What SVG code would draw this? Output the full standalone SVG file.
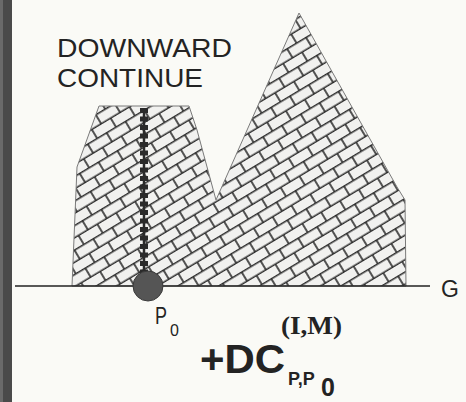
<svg xmlns="http://www.w3.org/2000/svg" width="466" height="402" viewBox="0 0 466 402">
<defs>
<pattern id="brick" patternUnits="userSpaceOnUse" width="22" height="21" patternTransform="rotate(-31)">
<rect width="22" height="21" fill="#f1f1ef"/>
<path d="M0 0.8H22M0 11.3H22M1 0.8V11.3M12 11.3V21.8" stroke="#2b2b2b" stroke-width="1.6" fill="none"/>
</pattern>
</defs>
<style>
.lbl{font-family:"Liberation Sans",Arial,sans-serif;fill:#232323}
.bold{font-weight:bold}
.serif{font-family:"Liberation Serif","Times New Roman",serif;font-weight:bold;fill:#232323}
</style>
<rect width="466" height="402" fill="#fafaf6"/>
<g id="edge-bar">
<rect x="0" y="0" width="12" height="402" fill="#4a4a4a"/>
<rect x="0" y="0" width="3" height="402" fill="#6a6a6a"/>
</g>
<g id="terrain">
<polygon points="72,286 77,167 99,106 189,106 197,130 216,200 299,13 397,187 405,200 406,286" fill="url(#brick)" stroke="#7a7a7a" stroke-width="1"/>
</g>
<g id="connectors">
<line id="ground" x1="15" y1="286" x2="430" y2="286" stroke="#222" stroke-width="1.6"/>
<g id="downward-path">
<line x1="144" y1="108" x2="144" y2="274" stroke="#2a2a2a" stroke-width="2.5"/>
<line x1="144" y1="108" x2="144" y2="274" stroke="#2a2a2a" stroke-width="8" stroke-dasharray="5 3.5"/>
</g>
</g>
<g id="p0">
<circle cx="148" cy="286" r="15" fill="#555" stroke="#3a3a3a" stroke-width="1"/>
<text class="lbl" x="155" y="324" font-size="23" textLength="12" lengthAdjust="spacingAndGlyphs">P</text>
<text class="lbl" x="170" y="336" font-size="16">0</text>
</g>
<g id="label-downward">
<text class="lbl" x="57" y="57" font-size="25" textLength="175" lengthAdjust="spacingAndGlyphs">DOWNWARD</text>
<text class="lbl" x="57" y="87" font-size="25" textLength="146" lengthAdjust="spacingAndGlyphs">CONTINUE</text>
</g>
<g id="label-g">
<text class="lbl" x="441" y="297" font-size="23">G</text>
</g>
<g id="formula">
<text class="lbl bold" x="200" y="373" font-size="40" textLength="85" lengthAdjust="spacingAndGlyphs">+DC</text>
<text class="serif" x="281" y="334" font-size="26" textLength="61" lengthAdjust="spacingAndGlyphs">(I,M)</text>
<text class="lbl bold" x="288" y="385" font-size="18">P,P</text>
<text class="lbl bold" x="321" y="396" font-size="25">0</text>
</g>
</svg>
